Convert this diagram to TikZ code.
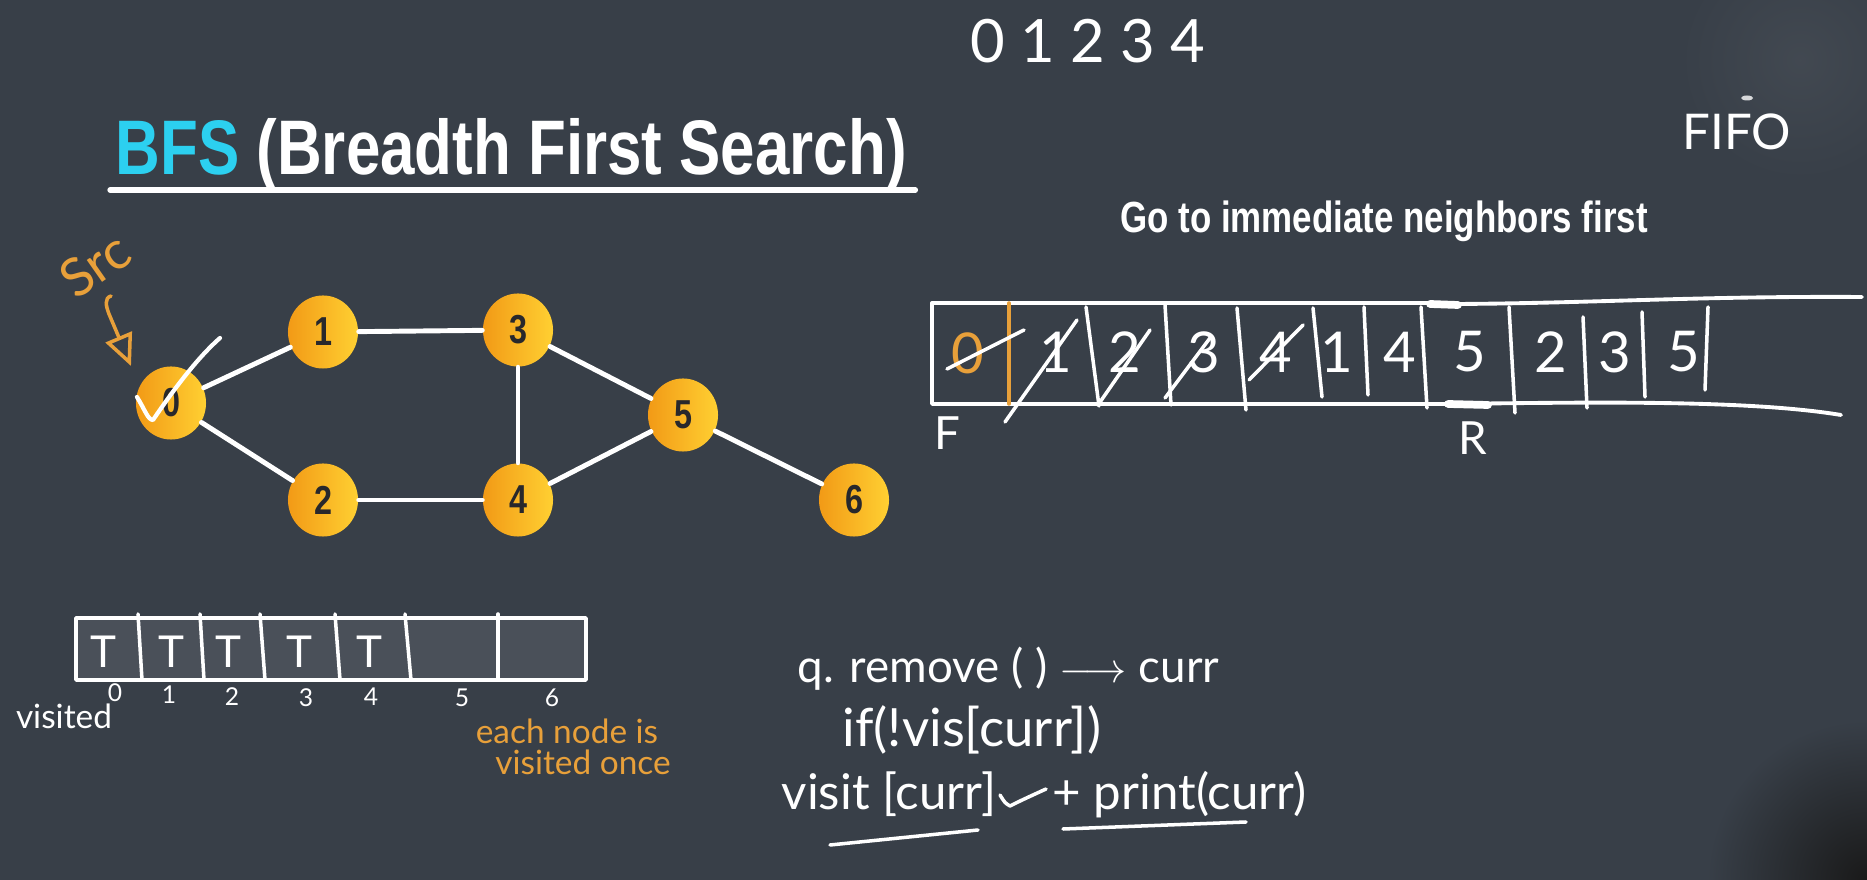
\documentclass[tikz,border=0pt]{standalone}
\usepackage{fontspec}
\setmainfont{Liberation Sans}
\newfontfamily\headfont[FakeStretch=0.8]{Liberation Sans}
\newfontfamily\handfont{Lato}
\usepackage{tikz}
\usetikzlibrary{arrows.meta,positioning,calc,shapes.geometric}
\definecolor{boardgray}{RGB}{56,63,72}
\definecolor{cellgray}{RGB}{74,80,89}
\definecolor{bfscyan}{RGB}{44,208,240}
\definecolor{chalkorange}{RGB}{232,160,58}
\definecolor{nodeorange}{RGB}{242,154,22}
\definecolor{nodeyellow}{RGB}{255,208,50}
\definecolor{digitdark}{RGB}{40,40,44}

\begin{document}
\begin{tikzpicture}[x=0.01cm,y=-0.01cm,>=Stealth,line cap=round,line join=round]
\tikzstyle{vertex}=[ellipse,minimum width=0.70cm,minimum height=0.73cm,inner sep=0pt,left color=nodeorange,right color=nodeyellow,text=digitdark,font=\fontsize{11.5}{12}\selectfont\headfont\bfseries]
\tikzstyle{edge}=[white,line width=1.4pt]
\tikzstyle{chalk}=[white,line width=1pt]
\tikzstyle{hand}=[inner sep=0pt,text=white,font=\handfont]
\tikzstyle{qdigit}=[hand,font=\fontsize{16}{16}\selectfont\handfont]
\tikzstyle{codeline}=[hand,anchor=base west,font=\fontsize{14}{14}\selectfont\handfont]
\useasboundingbox (0,0) rectangle (1867,880);
\fill[boardgray] (0,0) rectangle (1867,880);
\begin{scope}
\clip (0,0) rectangle (1867,880);
\shade[inner color=black!90,outer color=boardgray] (1867,880) circle (1.6cm);
\shade[inner color=boardgray!95!white,outer color=boardgray] (1800,60) circle (1.2cm);
\end{scope}
\node[anchor=base west,inner sep=0pt,text=white,font=\fontsize{22}{26}\selectfont\headfont\bfseries] (title) at (115,175) {\textcolor{bfscyan}{BFS} (Breadth First Search)};
\draw[white,line width=1.5pt] ($(title.base west)+(-5,15)$) -- ($(title.base east)+(8,15)$);
\node[anchor=base,inner sep=0pt,text=white,font=\fontsize{12.4}{14}\selectfont\headfont\bfseries] (goal) at (1384,233) {Go to immediate neighbors first};
\node[hand,anchor=base west,font=\fontsize{17}{17}\selectfont\handfont] (order) at (970,63) {0 1 2 3 4};
\node[hand,anchor=base west,font=\fontsize{14}{14}\selectfont\handfont] (fifo) at (1682,150) {FIFO};
\fill[white!80!boardgray] (1747,98) ellipse (0.06cm and 0.025cm);
\foreach \n/\x/\y in {0/171/403,1/323/332,2/323/500,3/518/330,4/518/500,5/683/415,6/854/500}{\node[vertex] (v\n) at (\x,\y) {\n};}
\foreach \a/\b in {0/1,0/2,1/3,2/4,3/4,3/5,4/5,5/6}{\draw[edge] (v\a)--(v\b);}
\draw[chalk,line width=1.2pt] (137,397) .. controls (145,410) and (148,420) .. (153,420) .. controls (170,395) and (195,360) .. (220,338);
\node[text=chalkorange,inner sep=0pt,font=\fontsize{15}{15}\selectfont\handfont,rotate=35] (src) at (95,265) {Src};
\coordinate (srctip) at (131,366);
\draw[chalkorange,line width=1pt,-{Triangle[open,length=9pt,width=8pt]}] (111,296) .. controls (104,298) and (106,306) .. (109,314) -- (srctip);
\fill[cellgray] (76,618) rectangle (586,680);
\draw[white,line width=1pt] (76,618) rectangle (586,680);
\foreach \a/\b in {138/142,200/204,260/265,335/340,405/411,498/498}{\draw[chalk] (\a,614) -- (\b,680);}
\foreach \x [count=\i] in {103,171,228,299,369}{\node[hand,font=\fontsize{12.5}{12}\selectfont\handfont] (t\i) at (\x,652) {T};}
\foreach \n/\x/\y in {0/115/693,1/169/695,2/232/697,3/306/698,4/371/697,5/462/698,6/552/698}{\node[hand,font=\fontsize{7}{7}\selectfont\handfont] (idx\n) at (\x,\y) {\n};}
\node[hand,font=\fontsize{9.5}{10}\selectfont\handfont] (vislabel) at (64,716) {visited};
\node[hand,text=chalkorange,font=\fontsize{9.5}{10}\selectfont\handfont] (note1) at (567,731) {each node is};
\node[hand,text=chalkorange,font=\fontsize{9.5}{10}\selectfont\handfont] (note2) at (583,762) {visited once};
\draw[chalk,line width=1.1pt] (1430,303) -- (932,303) -- (932,404) -- (1448,404);
\draw[chalk,line width=1.1pt] (1430,303) -- (1458,304) .. controls (1600,303) and (1700,296) .. (1862,297);
\draw[chalk,line width=1.1pt] (1448,404) .. controls (1600,402) and (1750,400) .. (1841,415);
\draw[white,line width=2.2pt] (1430,304) -- (1458,305);
\draw[white,line width=2.2pt] (1448,404) -- (1488,405);
\draw[chalkorange,line width=1pt] (1009,303) -- (1009,404);
\foreach \a/\b/\c/\d in {1086/307/1099/406,1165/305/1171/405,1237/308/1246/410,1313/308/1322/397,1364/307/1368/395,1421/307/1427/408,1509/307/1515/413,1583/317/1587/408,1642/312/1645/397,1708/307/1705/390}{\draw[chalk] (\a,\b) -- (\c,\d);}
\node[qdigit,text=chalkorange] (q0) at (968,353) {0};
\foreach \d/\x [count=\i] in {1/1056,2/1125,3/1204,4/1276,1/1337,4/1400,5/1470,2/1551,3/1615,5/1684}{\node[qdigit] (q\i) at (\x,352) {\d};}
\foreach \a/\b/\c/\d in {947/369/1024/330,1005/422/1077/320,1098/405/1150/330,1165/398/1210/338,1249/380/1303/325}{\draw[chalk] (\a,\b) -- (\c,\d);}
\node[hand,font=\fontsize{13}{13}\selectfont\handfont] (front) at (947,433) {F};
\node[hand,font=\fontsize{13}{13}\selectfont\handfont] (rear) at (1473,438) {R};
\node[codeline,font=\fontsize{13}{13}\selectfont\handfont] (deq) at (797,683) {q. remove ( ) $\longrightarrow$ curr};
\node[codeline,font=\fontsize{15}{15}\selectfont\handfont] (cond) at (842,747) {if(!vis[curr])};
\node[codeline] (mark) at (781,810) {visit [curr]};
\node[codeline] (prt) at (1052,810) {+ print(curr)};
\draw[chalk] (1000,795) .. controls (1005,803) .. (1010,806) .. controls (1022,800) .. (1046,789);
\draw[chalk] (830,845) -- (978,830);
\draw[chalk] (1063,829) -- (1246,822);
\end{tikzpicture}
\end{document}
